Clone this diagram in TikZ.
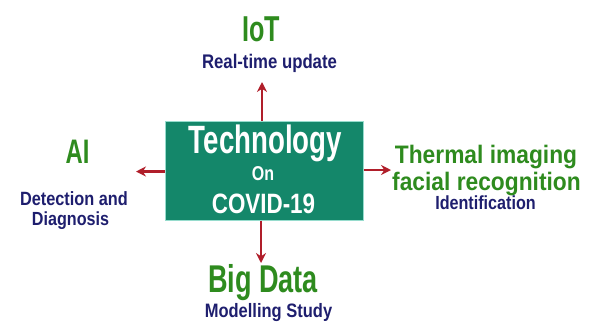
\documentclass[tikz,border=0pt]{standalone}
\usepackage{fontspec}
\setmainfont{Liberation Sans}
\newfontfamily\fA[FakeStretch=0.70]{Liberation Sans}
\newfontfamily\fB[FakeStretch=0.80]{Liberation Sans}
\newfontfamily\fC[FakeStretch=0.85]{Liberation Sans}
\newfontfamily\fD[FakeStretch=0.90]{Liberation Sans}
\usetikzlibrary{arrows.meta}
\definecolor{boxgreen}{RGB}{20,135,106}
\definecolor{boxedge}{RGB}{150,220,205}
\definecolor{titlegreen}{RGB}{46,139,30}
\definecolor{navy}{RGB}{30,30,110}
\definecolor{arrred}{RGB}{176,30,42}
\tikzset{
  txt/.style={anchor=base,inner sep=0pt},
  ttl/.style={txt,text=titlegreen},
  sub/.style={txt,text=navy},
  inbox/.style={txt,text=white},
  arr/.style={draw=arrred,line width=2.2pt,-{Stealth[length=10pt,width=10pt]}}
}
\begin{document}
\begin{tikzpicture}[x=1pt,y=-1pt]
\useasboundingbox (0,0) rectangle (591,333);
% central box
\node[fill=boxgreen,draw=boxedge,line width=1pt,minimum width=198pt,minimum height=99pt,inner sep=0pt] (box) at (264,170.5) {};
\node[inbox,font=\fA\bfseries\fontsize{39.5}{40}\selectfont] (t1) at (265.5,153) {Technology};
\node[inbox,font=\fB\bfseries\fontsize{20}{20}\selectfont] (t2) at (263,180) {On};
\node[inbox,font=\fB\bfseries\fontsize{28}{28}\selectfont] (t3) at (263.5,213) {COVID-19};
% top
\node[ttl,font=\fA\bfseries\fontsize{36}{36}\selectfont] (iot) at (261,41) {IoT};
\node[sub,font=\fC\bfseries\fontsize{19.7}{20}\selectfont] (iots) at (269.5,68) {Real-time update};
% left
\node[ttl,font=\fA\bfseries\fontsize{34}{34}\selectfont] (ai) at (77.5,163) {AI};
\node[sub,font=\fC\bfseries\fontsize{19.2}{20}\selectfont] (ais1) at (74,205) {Detection and};
\node[sub,font=\fC\bfseries\fontsize{19}{20}\selectfont] (ais2) at (70.5,225) {Diagnosis};
% right
\node[ttl,font=\fD\bfseries\fontsize{25.3}{26}\selectfont] (th1) at (486,163) {Thermal imaging};
\node[ttl,font=\fD\bfseries\fontsize{25.3}{26}\selectfont] (th2) at (486.5,190) {facial recognition};
\node[sub,font=\fC\bfseries\fontsize{19}{20}\selectfont] (ths) at (485.5,209) {Identification};
% bottom
\node[ttl,font=\fA\bfseries\fontsize{38.7}{39}\selectfont] (bd) at (263,292) {Big Data};
\node[sub,font=\fC\bfseries\fontsize{19.4}{20}\selectfont] (bds) at (268.5,317) {Modelling Study};
% arrow tips
\coordinate (up) at (262,82);
\coordinate (down) at (261,263);
\coordinate (left) at (136,171.5);
\coordinate (right) at (391,170);
\draw[arr] (box.north -| up) -- (up);
\draw[arr] (box.south -| down) -- (down);
\draw[arr] (box.west |- left) -- (left);
\draw[arr] (box.east |- right) -- (right);
\end{tikzpicture}
\end{document}
